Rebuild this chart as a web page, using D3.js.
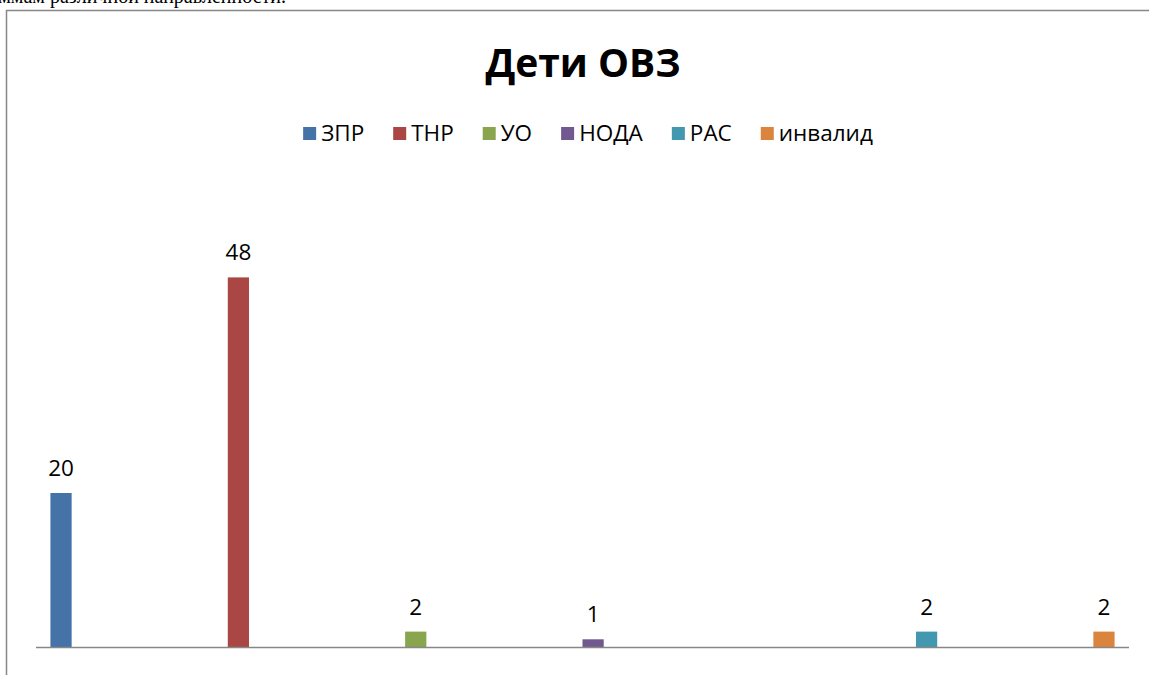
<!DOCTYPE html>
<html>
<head>
<meta charset="utf-8">
<script src="https://cdn.jsdelivr.net/npm/d3@7"></script>
<style>
  body { margin: 0; background: #fff; }
  svg { display: block; }
</style>
</head>
<body>
<svg id="chart"></svg>
<script>
// categories (hidden on the axis) and the six series, one bar each
const categories = ["1", "2", "3", "4", "5", "6", "7"];
const seriesNames = ["ЗПР", "ТНР", "УО", "НОДА", "РАС", "инвалид"];
const seriesColors = ["#4572A7", "#AA4643", "#89A54E", "#71588F", "#4198AF", "#DB843D"];
const zpr     = [20, null, null, null, null, null, null];
const tnr     = [null, 48, null, null, null, null, null];
const uo      = [null, null, 2, null, null, null, null];
const noda    = [null, null, null, 1, null, null, null];
const ras     = [null, null, null, null, null, 2, null];
const invalid = [null, null, null, null, null, null, 2];
const seriesValues = [zpr, tnr, uo, noda, ras, invalid];

const width = 1149;
const height = 675;
const margin = {top: 185, right: 20, bottom: 28, left: 36};
const font = "'Open Sans', sans-serif";

const svg = d3.select("#chart")
    .attr("width", width)
    .attr("height", height)
    .attr("viewBox", [0, 0, width, height]);

// page text above the chart frame, cut by the screenshot
svg.append("text")
    .attr("x", 286)
    .attr("y", 3)
    .attr("text-anchor", "end")
    .style("font", "20px 'Liberation Serif', serif")
    .style("fill", "#000")
    .text("ммам различной направленности.");

// chart frame
svg.append("rect")
    .attr("x", 6.5)
    .attr("y", 10.5)
    .attr("width", 1200)
    .attr("height", 700)
    .attr("fill", "none")
    .attr("stroke", "#878787")
    .attr("stroke-width", 1.5);

const x0 = d3.scaleBand()
    .domain(categories)
    .range([margin.left, width - margin.right])
    .paddingInner(0)
    .paddingOuter(0);

const x1 = d3.scaleBand()
    .domain(seriesNames)
    .range([0, x0.bandwidth()])
    .paddingInner(0)
    .paddingOuter(0.68);

const y = d3.scaleLinear()
    .domain([0, 60])
    .range([height - margin.bottom, margin.top]);

// title
svg.append("text")
    .attr("x", 583)
    .attr("y", 77)
    .attr("text-anchor", "middle")
    .style("font", `bold 39px ${font}`)
    .style("fill", "#000")
    .text("Дети ОВЗ");

// legend
const legend = svg.append("g");
const items = legend.selectAll("g")
    .data(seriesNames)
    .join("g");
items.append("rect")
    .attr("width", 13)
    .attr("height", 13)
    .attr("y", -14)
    .attr("fill", (d, i) => seriesColors[i]);
items.append("text")
    .attr("x", 18)
    .attr("y", 0)
    .style("font", `22.5px ${font}`)
    .style("fill", "#000")
    .text(d => d);
let offset = 0;
items.each(function () {
    const w = this.querySelector("text").getComputedTextLength();
    d3.select(this).attr("transform", `translate(${offset},141)`);
    offset += 18 + w + 29;
});
offset -= 29;
legend.attr("transform", `translate(${588 - offset / 2},0)`);

// bars
const data = [];
seriesValues.forEach((vals, s) => {
    vals.forEach((v, c) => {
        if (v !== null) data.push({series: seriesNames[s], color: seriesColors[s], cat: categories[c], value: v});
    });
});

const bars = svg.append("g");
bars.selectAll("rect")
    .data(data)
    .join("rect")
    .attr("x", d => x0(d.cat) + x1(d.series))
    .attr("y", d => y(d.value))
    .attr("width", x1.bandwidth())
    .attr("height", d => y(0) - y(d.value))
    .attr("fill", d => d.color);

// data labels
bars.selectAll("text")
    .data(data)
    .join("text")
    .attr("x", d => x0(d.cat) + x1(d.series) + x1.bandwidth() / 2)
    .attr("y", d => y(d.value) - 17)
    .attr("text-anchor", "middle")
    .style("font", `22.5px ${font}`)
    .style("fill", "#000")
    .text(d => d.value);

// category axis line, no ticks or labels
svg.append("line")
    .attr("x1", margin.left)
    .attr("x2", width - margin.right)
    .attr("y1", y(0) + 0.5)
    .attr("y2", y(0) + 0.5)
    .attr("stroke", "#878787")
    .attr("stroke-width", 1.5);
</script>
</body>
</html>
